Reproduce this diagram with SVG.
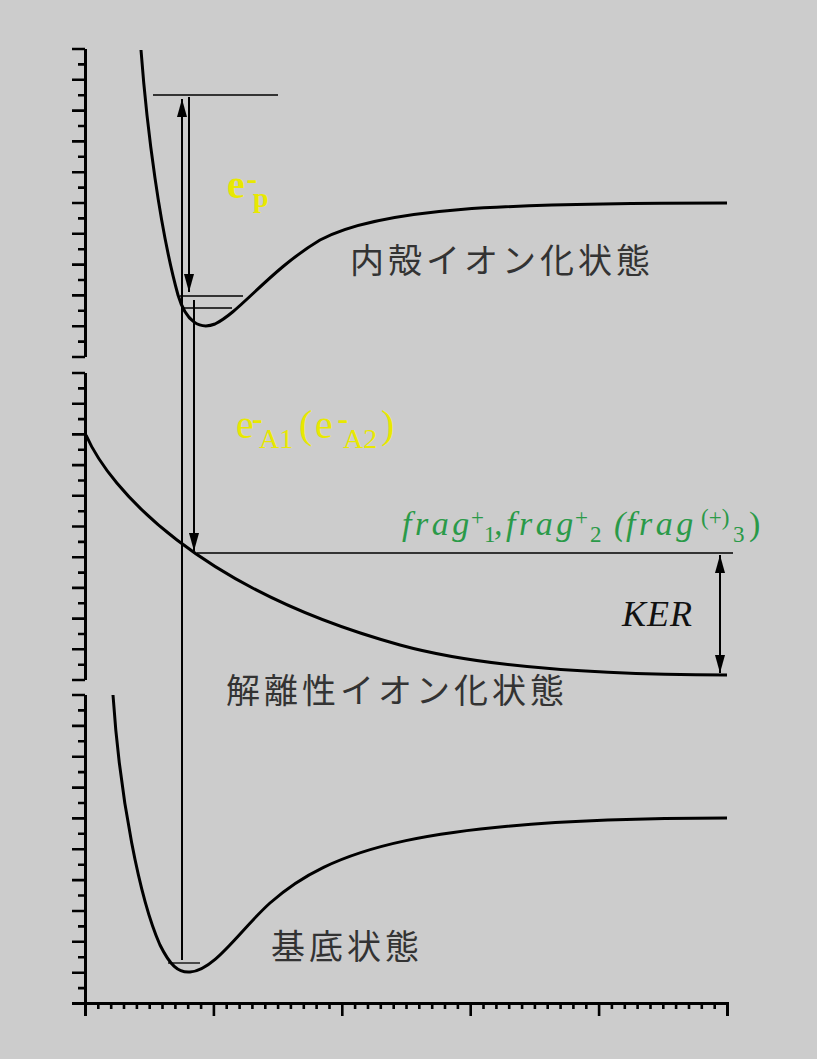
<svg xmlns="http://www.w3.org/2000/svg" width="817" height="1059" viewBox="0 0 817 1059">
<style>
.ax{fill:none;stroke:#000;stroke-width:3}
.tk{fill:none;stroke:#000;stroke-width:2.6}
.cv{fill:none;stroke:#000;stroke-width:3}
.lv{fill:none;stroke:#000;stroke-width:1.3}
.ar{fill:none;stroke:#000;stroke-width:2}
.jp{font-family:"Noto Sans CJK JP","Noto Sans CJK SC",sans-serif;font-size:34px;letter-spacing:4px;fill:#333}
.yl{font-family:"Liberation Serif",serif;font-size:40px;fill:#e8e800}
.ys{font-size:28px}
.hy{font-size:32px;font-weight:bold}
.gr{font-family:"Liberation Serif",serif;font-size:34px;font-style:italic;fill:#2a9a48}
.gs{font-size:23px;font-style:normal}
.kr{font-family:"Liberation Serif",serif;font-size:36px;font-style:italic;fill:#111;letter-spacing:1px}
</style>
<defs>
<marker id="ah" markerUnits="userSpaceOnUse" markerWidth="18" markerHeight="10" viewBox="0 0 18 10" refX="18" refY="5" orient="auto-start-reverse"><path d="M0,0 L18,5 L0,10 z" fill="#000"/></marker>
</defs>
<rect width="817" height="1059" fill="#cccccc"/>
<g id="axes">
<path class="ax" d="M85.5,49 V357 M85.5,373 V680 M85.5,695 V1016 M72,1003.5 H727.5 V1016"/>
<path class="tk" d="M72,49H85 M78,64.4H85 M72,79.8H85 M78,95.2H85 M72,110.6H85 M78,126H85 M72,141.4H85 M78,156.8H85 M72,172.2H85 M78,187.6H85 M72,203H85 M78,218.4H85 M72,233.8H85 M78,249.2H85 M72,264.6H85 M78,280H85 M72,295.4H85 M78,310.8H85 M72,326.2H85 M78,341.6H85 M72,357H85"/>
<path class="tk" d="M72,373H85 M78,388.4H85 M72,403.7H85 M78,419.1H85 M72,434.4H85 M78,449.8H85 M72,465.1H85 M78,480.5H85 M72,495.8H85 M78,511.2H85 M72,526.5H85 M78,541.9H85 M72,557.2H85 M78,572.6H85 M72,587.9H85 M78,603.3H85 M72,618.6H85 M78,634H85 M72,649.3H85 M78,664.7H85 M72,680H85"/>
<path class="tk" d="M72,695H85 M78,710.4H85 M72,725.9H85 M78,741.3H85 M72,756.7H85 M78,772.1H85 M72,787.6H85 M78,803H85 M72,818.4H85 M78,833.8H85 M72,849.3H85 M78,864.7H85 M72,880.1H85 M78,895.5H85 M72,911H85 M78,926.4H85 M72,941.8H85 M78,957.2H85 M72,972.7H85 M78,988.1H85"/>
<path class="tk" d="M98.3,1003v6 M111.2,1003v6 M124,1003v6 M136.9,1003v6 M149.7,1003v6 M162.5,1003v6 M175.4,1003v6 M188.2,1003v6 M201.1,1003v6 M213.9,1003v13 M226.7,1003v6 M239.6,1003v6 M252.4,1003v6 M265.3,1003v6 M278.1,1003v6 M290.9,1003v6 M303.8,1003v6 M316.6,1003v6 M329.5,1003v6 M342.3,1003v13 M355.1,1003v6 M368,1003v6 M380.8,1003v6 M393.7,1003v6 M406.5,1003v6 M419.3,1003v6 M432.2,1003v6 M445,1003v6 M457.9,1003v6 M470.7,1003v13 M483.5,1003v6 M496.4,1003v6 M509.2,1003v6 M522.1,1003v6 M534.9,1003v6 M547.7,1003v6 M560.6,1003v6 M573.4,1003v6 M586.3,1003v6 M599.1,1003v13 M611.9,1003v6 M624.8,1003v6 M637.6,1003v6 M650.5,1003v6 M663.3,1003v6 M676.1,1003v6 M689,1003v6 M701.8,1003v6 M714.7,1003v6"/>
</g>
<g id="core-ionized-state">
<path class="cv" d="M141,50 C147,130 160,230 178,295 C186,322 200,330 215,324 C240,312 270,270 320,240 C380,208 500,203 727,203"/>
<path class="lv" d="M153,95 H278 M180,296 H243 M183,308 H232"/>
<text class="jp" x="350" y="273">内殻イオン化状態</text>
</g>
<g id="dissociative-state">
<path class="cv" d="M86,435 C110,490 200,590 400,645 C480,667 600,675 727,675"/>
<path class="lv" d="M197,553 H733"/>
<text class="jp" x="226" y="703" letter-spacing="5.3">解離性イオン化状態</text>
</g>
<g id="ground-state">
<path class="cv" d="M113,695 C120,800 140,900 160,945 C170,965 178,973 190,972 C215,970 240,930 270,903 C330,850 420,818 727,818"/>
<path class="lv" d="M168,963 H200"/>
<text class="jp" x="271" y="959">基底状態</text>
</g>
<g id="connectors">
<line class="ar" x1="182" y1="960" x2="182" y2="99" marker-end="url(#ah)"/>
<line class="ar" x1="189" y1="97" x2="189" y2="292" marker-end="url(#ah)"/>
<line class="ar" x1="194" y1="300" x2="194" y2="551" marker-end="url(#ah)"/>
<line class="ar" x1="720" y1="555" x2="720" y2="673" marker-start="url(#ah)" marker-end="url(#ah)"/>
</g>
<g id="labels">
<text class="yl" x="227" y="198" font-weight="bold">e<tspan class="hy" x="246.5" y="189">-</tspan><tspan class="ys" x="253" y="207">p</tspan></text>
<text class="yl" x="236" y="438">e<tspan class="hy" x="252" y="429">-</tspan><tspan class="ys" x="259" y="448">A1</tspan><tspan x="299" y="438">(</tspan><tspan x="315" y="438">e</tspan><tspan class="hy" x="337.5" y="429">-</tspan><tspan class="ys" x="343" y="448">A2</tspan><tspan x="381" y="438">)</tspan></text>
<text class="gr" y="535"><tspan x="402" letter-spacing="3.5">frag</tspan><tspan class="gs" x="471" y="525">+</tspan><tspan class="gs" x="484" y="542">1</tspan><tspan x="494" y="535">,</tspan><tspan x="506" letter-spacing="3.5">frag</tspan><tspan class="gs" x="575" y="525">+</tspan><tspan class="gs" x="590" y="542">2</tspan><tspan x="614" y="535">(</tspan><tspan x="626" letter-spacing="3.5">frag</tspan><tspan class="gs" x="701" y="525">(+)</tspan><tspan class="gs" x="733" y="542">3</tspan><tspan x="749" y="535" font-style="normal">)</tspan></text>
<text class="kr" x="622" y="626">KER</text>
</g>
</svg>
